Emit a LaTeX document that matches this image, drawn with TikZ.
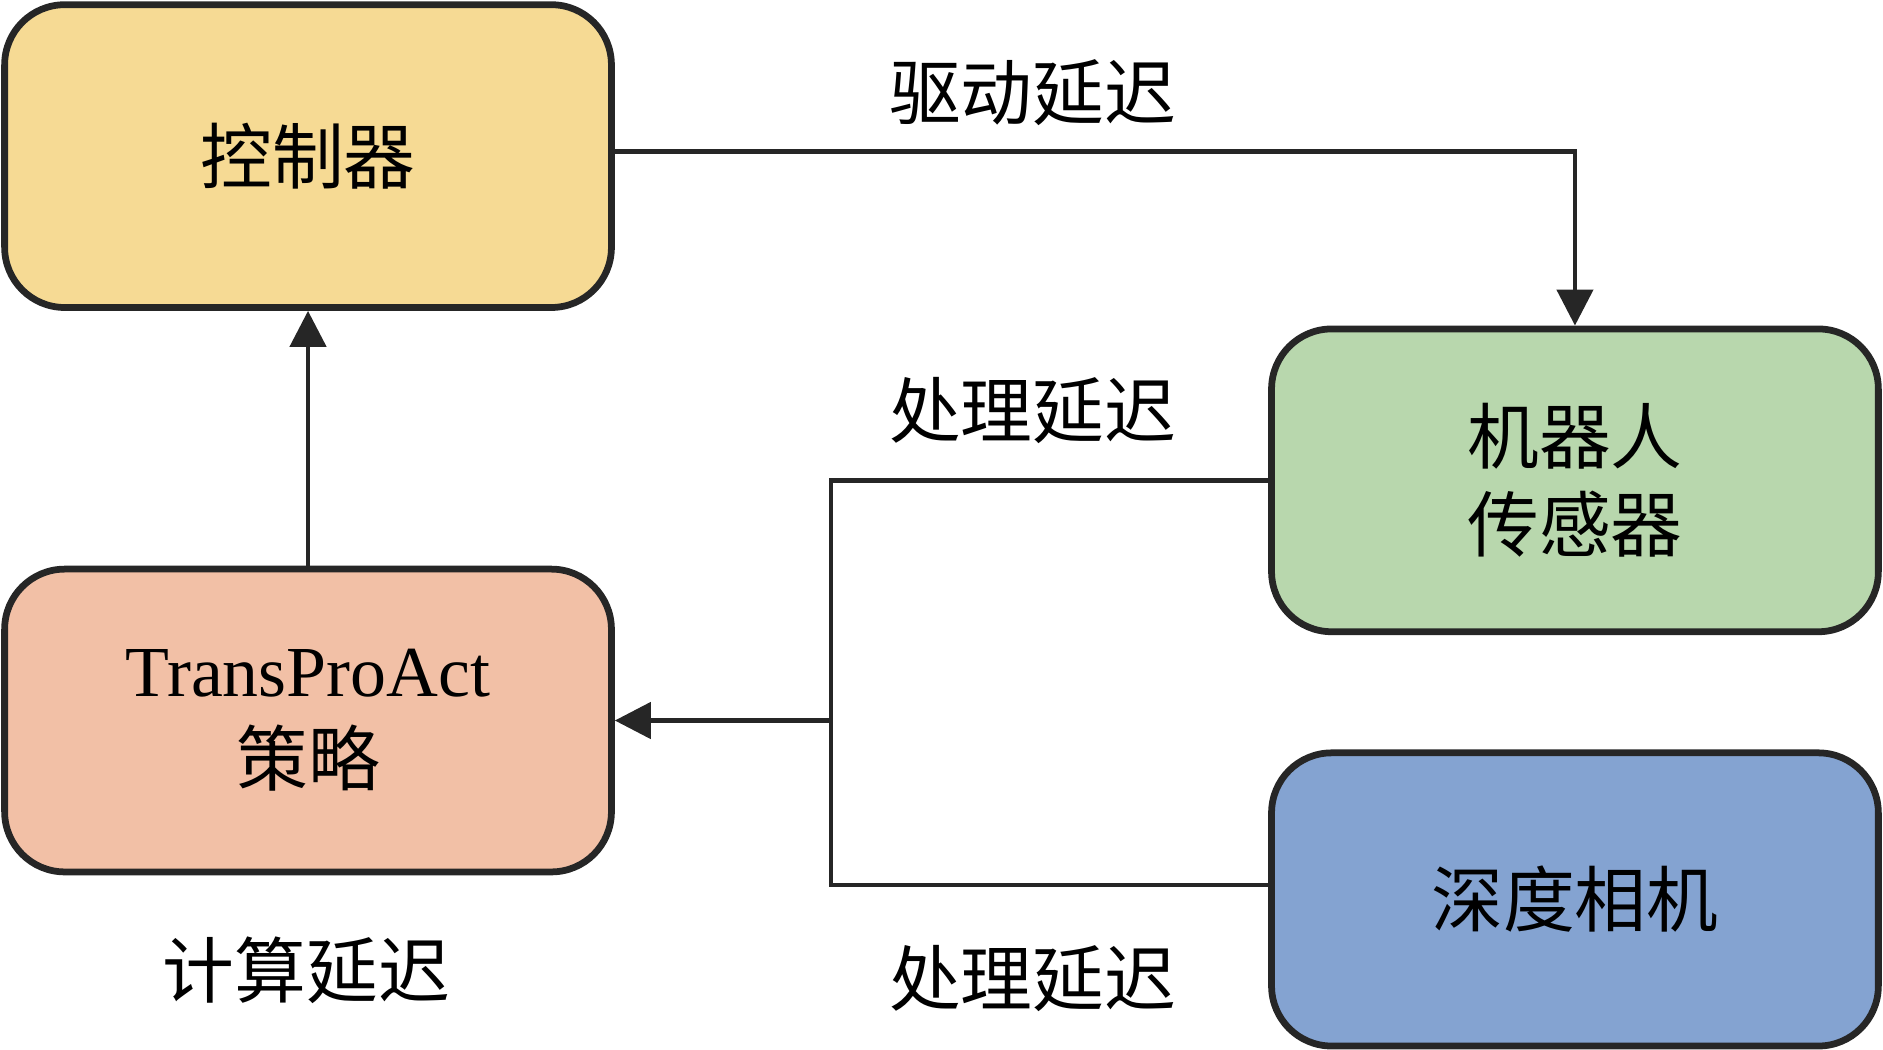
\documentclass[tikz,border=0pt]{standalone}
\usepackage{fontspec}
\setmainfont{Liberation Serif}
\newfontfamily\cjk{Noto Sans CJK SC}
\usetikzlibrary{arrows.meta}
\definecolor{cY}{HTML}{F6DA94}
\definecolor{cG}{HTML}{B8D7AD}
\definecolor{cO}{HTML}{F2C0A6}
\definecolor{cB}{HTML}{84A3D1}
\begin{document}
\begin{tikzpicture}[x=0.01cm,y=-0.01cm,
  box/.style={draw=black!85,line width=1.6pt,rounded corners=0.5cm,minimum width=5.05cm,minimum height=2.52cm,align=center,font=\fontsize{17}{21}\selectfont\cjk},
  lbl/.style={font=\fontsize{17}{21}\selectfont\cjk},
  ln/.style={line width=1.1pt,black!85},
  arr/.style={ln,-{Triangle[length=0.3cm,width=0.3cm]}}]
\useasboundingbox (0,0) rectangle (1568,874);
\node[box,fill=cY] (ctrl) at (256.5,130) {控制器};
\node[box,fill=cG] (robot) at (1311.5,400) {机器人\\传感器};
\node[box,fill=cO] (pol) at (256.5,600) {{\rmfamily TransProAct}\\策略};
\node[box,fill=cB,minimum height=2.44cm] (cam) at (1311.5,749) {深度相机};
\coordinate (j1) at (692,400);
\coordinate (j2) at (692,737);
\coordinate (jm) at (692,600);
\draw[arr] (ctrl.east |- 0,126) -| (robot.north);
\draw[ln] (robot.west) -- (j1) -- (j2) -- (cam.west |- j2);
\draw[arr] (jm) -- (pol.east);
\draw[arr] (pol.north) -- (ctrl.south);
\node[lbl] (l1) at (860,77) {驱动延迟};
\node[lbl] (l2) at (860,342) {处理延迟};
\node[lbl] (l3) at (860,815) {处理延迟};
\node[lbl] (l4) at (255,808) {计算延迟};
\end{tikzpicture}
\end{document}
